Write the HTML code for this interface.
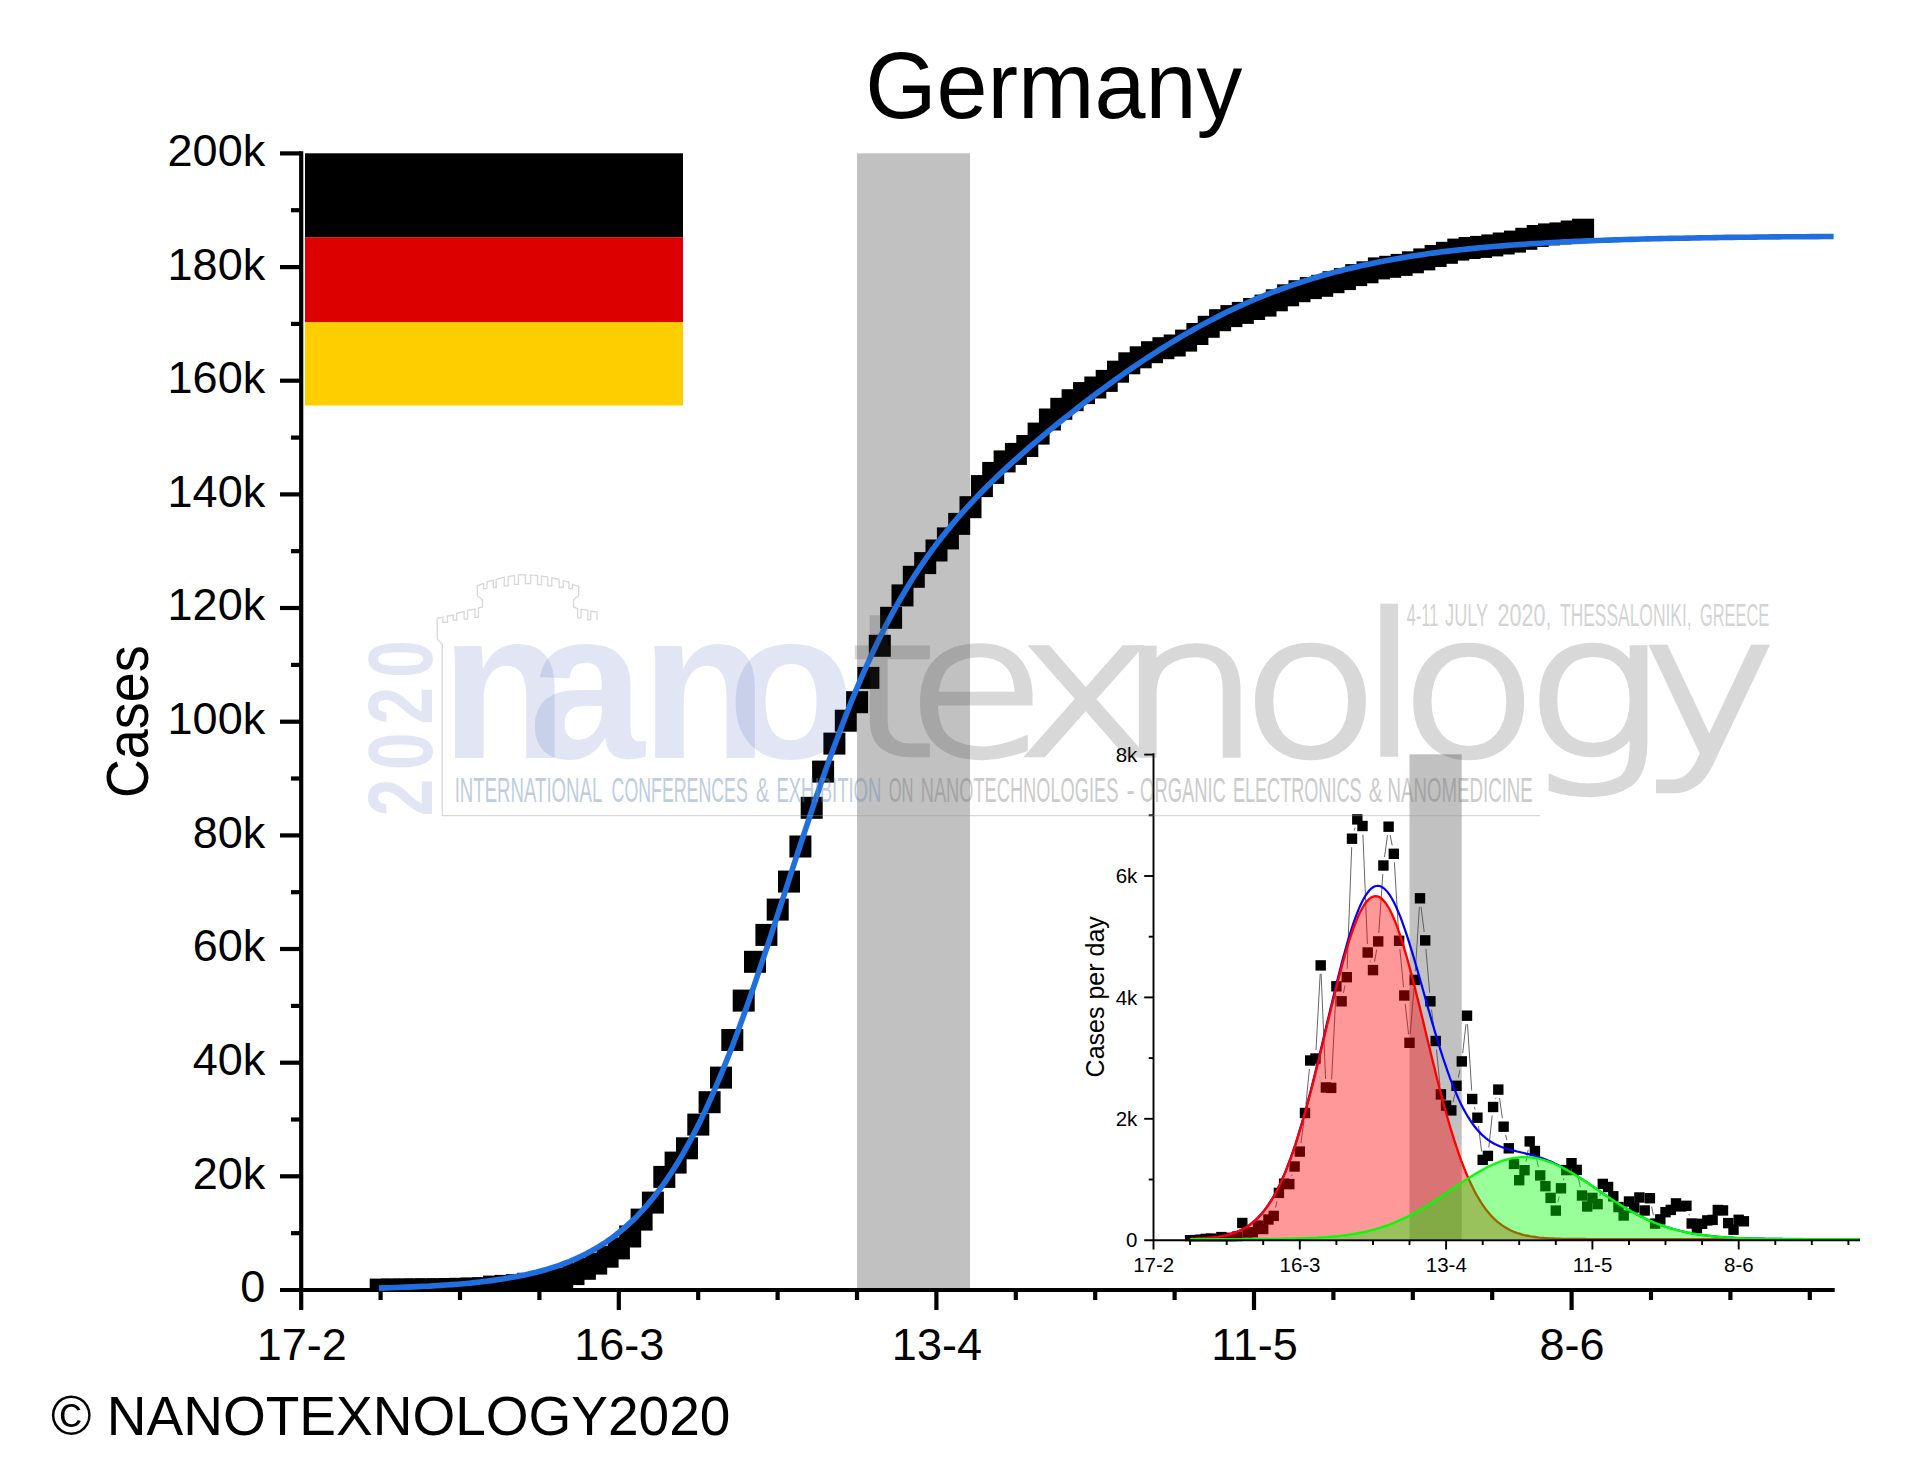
<!DOCTYPE html>
<html lang="en"><head><meta charset="utf-8"><title>Germany</title>
<style>html,body{margin:0;padding:0;background:#fff;}svg{display:block;}</style></head>
<body>
<svg width="1920" height="1469" viewBox="0 0 1920 1469" font-family="Liberation Sans, Arial, sans-serif">
<rect x="0" y="0" width="1920" height="1469" fill="#ffffff"/>
<rect x="857" y="153.3" width="113" height="1136.7" fill="#c1c1c1"/>
<g><rect x="305" y="153.3" width="378" height="84" fill="#000000"/><rect x="305" y="237.2" width="378" height="85" fill="#dd0000"/><rect x="305" y="322" width="378" height="83.5" fill="#ffce00"/></g>
<g stroke="#000000" stroke-width="4.2" fill="none">
<line x1="301.2" y1="151.2" x2="301.2" y2="1310.0"/><line x1="280.0" y1="1290.0" x2="1834.7" y2="1290.0"/><line x1="291" y1="1233.2" x2="301.2" y2="1233.2"/><line x1="280" y1="1176.3" x2="301.2" y2="1176.3"/><line x1="291" y1="1119.5" x2="301.2" y2="1119.5"/><line x1="280" y1="1062.7" x2="301.2" y2="1062.7"/><line x1="291" y1="1005.9" x2="301.2" y2="1005.9"/><line x1="280" y1="949.0" x2="301.2" y2="949.0"/><line x1="291" y1="892.2" x2="301.2" y2="892.2"/><line x1="280" y1="835.4" x2="301.2" y2="835.4"/><line x1="291" y1="778.5" x2="301.2" y2="778.5"/><line x1="280" y1="721.7" x2="301.2" y2="721.7"/><line x1="291" y1="664.9" x2="301.2" y2="664.9"/><line x1="280" y1="608.0" x2="301.2" y2="608.0"/><line x1="291" y1="551.2" x2="301.2" y2="551.2"/><line x1="280" y1="494.4" x2="301.2" y2="494.4"/><line x1="291" y1="437.6" x2="301.2" y2="437.6"/><line x1="280" y1="380.7" x2="301.2" y2="380.7"/><line x1="291" y1="323.9" x2="301.2" y2="323.9"/><line x1="280" y1="267.1" x2="301.2" y2="267.1"/><line x1="291" y1="210.2" x2="301.2" y2="210.2"/><line x1="280" y1="153.4" x2="301.2" y2="153.4"/><line x1="380.6" y1="1290.0" x2="380.6" y2="1300"/><line x1="460.0" y1="1290.0" x2="460.0" y2="1300"/><line x1="539.4" y1="1290.0" x2="539.4" y2="1300"/><line x1="618.8" y1="1290.0" x2="618.8" y2="1310"/><line x1="698.2" y1="1290.0" x2="698.2" y2="1300"/><line x1="777.6" y1="1290.0" x2="777.6" y2="1300"/><line x1="857.0" y1="1290.0" x2="857.0" y2="1300"/><line x1="936.4" y1="1290.0" x2="936.4" y2="1310"/><line x1="1015.8" y1="1290.0" x2="1015.8" y2="1300"/><line x1="1095.2" y1="1290.0" x2="1095.2" y2="1300"/><line x1="1174.6" y1="1290.0" x2="1174.6" y2="1300"/><line x1="1254.0" y1="1290.0" x2="1254.0" y2="1310"/><line x1="1333.4" y1="1290.0" x2="1333.4" y2="1300"/><line x1="1412.8" y1="1290.0" x2="1412.8" y2="1300"/><line x1="1492.2" y1="1290.0" x2="1492.2" y2="1300"/><line x1="1571.6" y1="1290.0" x2="1571.6" y2="1310"/><line x1="1651.0" y1="1290.0" x2="1651.0" y2="1300"/><line x1="1730.4" y1="1290.0" x2="1730.4" y2="1300"/><line x1="1809.8" y1="1290.0" x2="1809.8" y2="1300"/>
</g>
<clipPath id="mclip"><rect x="301.2" y="140" width="1600" height="1152.1"/></clipPath>
<g fill="#000000" clip-path="url(#mclip)">
<rect x="369.7" y="1278.6" width="22.0" height="22.0"/><rect x="381.0" y="1278.6" width="22.0" height="22.0"/><rect x="392.4" y="1278.5" width="22.0" height="22.0"/><rect x="403.7" y="1278.4" width="22.0" height="22.0"/><rect x="415.1" y="1278.3" width="22.0" height="22.0"/><rect x="426.4" y="1278.3" width="22.0" height="22.0"/><rect x="437.8" y="1278.0" width="22.0" height="22.0"/><rect x="449.1" y="1277.8" width="22.0" height="22.0"/><rect x="460.4" y="1277.5" width="22.0" height="22.0"/><rect x="471.8" y="1277.2" width="22.0" height="22.0"/><rect x="483.1" y="1275.6" width="22.0" height="22.0"/><rect x="494.5" y="1274.9" width="22.0" height="22.0"/><rect x="505.8" y="1274.2" width="22.0" height="22.0"/><rect x="517.2" y="1272.8" width="22.0" height="22.0"/><rect x="528.5" y="1271.7" width="22.0" height="22.0"/><rect x="539.8" y="1269.8" width="22.0" height="22.0"/><rect x="551.2" y="1267.5" width="22.0" height="22.0"/><rect x="562.5" y="1263.1" width="22.0" height="22.0"/><rect x="573.9" y="1257.8" width="22.0" height="22.0"/><rect x="585.2" y="1252.6" width="22.0" height="22.0"/><rect x="596.6" y="1245.7" width="22.0" height="22.0"/><rect x="607.9" y="1237.4" width="22.0" height="22.0"/><rect x="619.2" y="1225.5" width="22.0" height="22.0"/><rect x="630.6" y="1208.6" width="22.0" height="22.0"/><rect x="641.9" y="1191.6" width="22.0" height="22.0"/><rect x="653.3" y="1165.9" width="22.0" height="22.0"/><rect x="664.6" y="1151.6" width="22.0" height="22.0"/><rect x="676.0" y="1137.3" width="22.0" height="22.0"/><rect x="687.3" y="1113.6" width="22.0" height="22.0"/><rect x="698.6" y="1091.2" width="22.0" height="22.0"/><rect x="710.0" y="1066.6" width="22.0" height="22.0"/><rect x="721.3" y="1029.0" width="22.0" height="22.0"/><rect x="732.7" y="989.6" width="22.0" height="22.0"/><rect x="744.0" y="950.8" width="22.0" height="22.0"/><rect x="755.4" y="923.9" width="22.0" height="22.0"/><rect x="766.7" y="898.6" width="22.0" height="22.0"/><rect x="778.0" y="870.6" width="22.0" height="22.0"/><rect x="789.4" y="835.5" width="22.0" height="22.0"/><rect x="800.7" y="796.8" width="22.0" height="22.0"/><rect x="812.1" y="760.6" width="22.0" height="22.0"/><rect x="823.4" y="732.6" width="22.0" height="22.0"/><rect x="834.8" y="709.7" width="22.0" height="22.0"/><rect x="846.1" y="691.2" width="22.0" height="22.0"/><rect x="857.4" y="666.9" width="22.0" height="22.0"/><rect x="868.8" y="634.8" width="22.0" height="22.0"/><rect x="880.1" y="606.8" width="22.0" height="22.0"/><rect x="891.5" y="584.4" width="22.0" height="22.0"/><rect x="902.8" y="565.8" width="22.0" height="22.0"/><rect x="914.2" y="552.1" width="22.0" height="22.0"/><rect x="925.5" y="539.5" width="22.0" height="22.0"/><rect x="936.9" y="527.4" width="22.0" height="22.0"/><rect x="948.2" y="512.9" width="22.0" height="22.0"/><rect x="959.5" y="496.2" width="22.0" height="22.0"/><rect x="970.9" y="475.1" width="22.0" height="22.0"/><rect x="982.2" y="461.9" width="22.0" height="22.0"/><rect x="993.6" y="450.4" width="22.0" height="22.0"/><rect x="1004.9" y="442.9" width="22.0" height="22.0"/><rect x="1016.3" y="435.0" width="22.0" height="22.0"/><rect x="1027.6" y="422.6" width="22.0" height="22.0"/><rect x="1038.9" y="408.5" width="22.0" height="22.0"/><rect x="1050.3" y="397.8" width="22.0" height="22.0"/><rect x="1061.6" y="389.2" width="22.0" height="22.0"/><rect x="1073.0" y="382.1" width="22.0" height="22.0"/><rect x="1084.3" y="376.5" width="22.0" height="22.0"/><rect x="1095.7" y="369.9" width="22.0" height="22.0"/><rect x="1107.0" y="360.7" width="22.0" height="22.0"/><rect x="1118.3" y="352.3" width="22.0" height="22.0"/><rect x="1129.7" y="346.3" width="22.0" height="22.0"/><rect x="1141.0" y="341.2" width="22.0" height="22.0"/><rect x="1152.4" y="337.2" width="22.0" height="22.0"/><rect x="1163.7" y="334.5" width="22.0" height="22.0"/><rect x="1175.1" y="329.6" width="22.0" height="22.0"/><rect x="1186.4" y="323.0" width="22.0" height="22.0"/><rect x="1197.7" y="315.8" width="22.0" height="22.0"/><rect x="1209.1" y="309.2" width="22.0" height="22.0"/><rect x="1220.4" y="305.1" width="22.0" height="22.0"/><rect x="1231.8" y="301.9" width="22.0" height="22.0"/><rect x="1243.1" y="298.0" width="22.0" height="22.0"/><rect x="1254.5" y="294.6" width="22.0" height="22.0"/><rect x="1265.8" y="289.3" width="22.0" height="22.0"/><rect x="1277.1" y="284.3" width="22.0" height="22.0"/><rect x="1288.5" y="280.2" width="22.0" height="22.0"/><rect x="1299.8" y="277.1" width="22.0" height="22.0"/><rect x="1311.2" y="274.8" width="22.0" height="22.0"/><rect x="1322.5" y="271.2" width="22.0" height="22.0"/><rect x="1333.9" y="268.1" width="22.0" height="22.0"/><rect x="1345.2" y="264.1" width="22.0" height="22.0"/><rect x="1356.5" y="261.3" width="22.0" height="22.0"/><rect x="1367.9" y="257.4" width="22.0" height="22.0"/><rect x="1379.2" y="255.8" width="22.0" height="22.0"/><rect x="1390.6" y="253.9" width="22.0" height="22.0"/><rect x="1401.9" y="251.3" width="22.0" height="22.0"/><rect x="1413.3" y="248.4" width="22.0" height="22.0"/><rect x="1424.6" y="245.0" width="22.0" height="22.0"/><rect x="1435.9" y="241.8" width="22.0" height="22.0"/><rect x="1447.3" y="238.6" width="22.0" height="22.0"/><rect x="1458.6" y="237.0" width="22.0" height="22.0"/><rect x="1470.0" y="235.9" width="22.0" height="22.0"/><rect x="1481.3" y="234.4" width="22.0" height="22.0"/><rect x="1492.7" y="232.5" width="22.0" height="22.0"/><rect x="1504.0" y="230.6" width="22.0" height="22.0"/><rect x="1515.3" y="227.8" width="22.0" height="22.0"/><rect x="1526.7" y="225.0" width="22.0" height="22.0"/><rect x="1538.0" y="223.4" width="22.0" height="22.0"/><rect x="1549.4" y="222.4" width="22.0" height="22.0"/><rect x="1560.7" y="220.5" width="22.0" height="22.0"/><rect x="1572.1" y="218.7" width="22.0" height="22.0"/>
</g>
<polyline points="378.9,1288.1 384.5,1287.9 390.1,1287.7 395.7,1287.5 401.4,1287.3 407.0,1287.1 412.6,1286.9 418.2,1286.6 423.8,1286.3 429.5,1286.1 435.1,1285.7 440.7,1285.4 446.3,1285.0 451.9,1284.6 457.5,1284.2 463.2,1283.7 468.8,1283.2 474.4,1282.6 480.0,1282.0 485.6,1281.3 491.2,1280.6 496.9,1279.8 502.5,1279.0 508.1,1278.1 513.7,1277.1 519.3,1276.0 524.9,1274.9 530.6,1273.6 536.2,1272.3 541.8,1270.8 547.4,1269.2 553.0,1267.4 558.6,1265.6 564.3,1263.5 569.9,1261.3 575.5,1258.9 581.1,1256.3 586.7,1253.5 592.3,1250.5 598.0,1247.2 603.6,1243.7 609.2,1239.9 614.8,1235.8 620.4,1231.3 626.0,1226.5 631.7,1221.4 637.3,1215.9 642.9,1209.9 648.5,1203.6 654.1,1196.7 659.7,1189.4 665.4,1181.6 671.0,1173.3 676.6,1164.5 682.2,1155.1 687.8,1145.2 693.4,1134.6 699.1,1123.5 704.7,1111.9 710.3,1099.6 715.9,1086.7 721.5,1073.3 727.1,1059.4 732.8,1044.9 738.4,1029.9 744.0,1014.5 749.6,998.6 755.2,982.3 760.8,965.8 766.5,948.9 772.1,931.9 777.7,914.6 783.3,897.3 788.9,880.0 794.5,862.7 800.2,845.5 805.8,828.4 811.4,811.6 817.0,795.0 822.6,778.7 828.2,762.8 833.9,747.3 839.5,732.2 845.1,717.5 850.7,703.3 856.3,689.6 861.9,676.4 867.6,663.7 873.2,651.5 878.8,639.7 884.4,628.5 890.0,617.7 895.6,607.4 901.3,597.5 906.9,588.0 912.5,578.9 918.1,570.2 923.7,561.9 929.3,553.9 935.0,546.2 940.6,538.8 946.2,531.7 951.8,524.9 957.4,518.2 963.0,511.8 968.7,505.6 974.3,499.6 979.9,493.7 985.5,488.0 991.1,482.4 996.7,477.0 1002.4,471.6 1008.0,466.4 1013.6,461.3 1019.2,456.3 1024.8,451.3 1030.4,446.4 1036.1,441.6 1041.7,436.9 1047.3,432.2 1052.9,427.6 1058.5,423.0 1064.1,418.5 1069.8,414.1 1075.4,409.7 1081.0,405.3 1086.6,401.0 1092.2,396.8 1097.8,392.6 1103.5,388.4 1109.1,384.3 1114.7,380.2 1120.3,376.2 1125.9,372.3 1131.5,368.4 1137.2,364.6 1142.8,360.8 1148.4,357.1 1154.0,353.5 1159.6,349.9 1165.2,346.3 1170.9,342.9 1176.5,339.5 1182.1,336.2 1187.7,332.9 1193.3,329.7 1198.9,326.6 1204.6,323.6 1210.2,320.6 1215.8,317.7 1221.4,314.8 1227.0,312.1 1232.6,309.4 1238.3,306.8 1243.9,304.2 1249.5,301.7 1255.1,299.3 1260.7,297.0 1266.3,294.7 1272.0,292.5 1277.6,290.4 1283.2,288.3 1288.8,286.3 1294.4,284.3 1300.0,282.5 1305.7,280.6 1311.3,278.9 1316.9,277.2 1322.5,275.5 1328.1,274.0 1333.7,272.4 1339.4,271.0 1345.0,269.5 1350.6,268.2 1356.2,266.9 1361.8,265.6 1367.4,264.4 1373.1,263.2 1378.7,262.0 1384.3,261.0 1389.9,259.9 1395.5,258.9 1401.1,257.9 1406.8,257.0 1412.4,256.1 1418.0,255.3 1423.6,254.4 1429.2,253.6 1434.8,252.9 1440.5,252.1 1446.1,251.4 1451.7,250.8 1457.3,250.1 1462.9,249.5 1468.6,248.9 1474.2,248.4 1479.8,247.8 1485.4,247.3 1491.0,246.8 1496.6,246.3 1502.3,245.9 1507.9,245.4 1513.5,245.0 1519.1,244.6 1524.7,244.2 1530.3,243.8 1536.0,243.5 1541.6,243.2 1547.2,242.8 1552.8,242.5 1558.4,242.2 1564.0,241.9 1569.7,241.7 1575.3,241.4 1580.9,241.2 1586.5,240.9 1592.1,240.7 1597.7,240.5 1603.4,240.3 1609.0,240.1 1614.6,239.9 1620.2,239.7 1625.8,239.5 1631.4,239.4 1637.1,239.2 1642.7,239.0 1648.3,238.9 1653.9,238.8 1659.5,238.6 1665.1,238.5 1670.8,238.4 1676.4,238.3 1682.0,238.2 1687.6,238.1 1693.2,238.0 1698.8,237.9 1704.5,237.8 1710.1,237.7 1715.7,237.6 1721.3,237.5 1726.9,237.4 1732.5,237.4 1738.2,237.3 1743.8,237.2 1749.4,237.2 1755.0,237.1 1760.6,237.0 1766.2,237.0 1771.9,236.9 1777.5,236.9 1783.1,236.8 1788.7,236.8 1794.3,236.7 1799.9,236.7 1805.6,236.7 1811.2,236.6 1816.8,236.6 1822.4,236.5 1828.0,236.5 1833.6,236.5" fill="none" stroke="#1f6fe0" stroke-width="5.6" stroke-linejoin="round" stroke-linecap="butt"/>
<g font-size="45" fill="#000000" text-anchor="end">
<text x="265.2" y="1302.4">0</text><text x="265.2" y="1188.7">20k</text><text x="265.2" y="1075.1">40k</text><text x="265.2" y="961.4">60k</text><text x="265.2" y="847.8">80k</text><text x="265.2" y="734.1">100k</text><text x="265.2" y="620.4">120k</text><text x="265.2" y="506.8">140k</text><text x="265.2" y="393.1">160k</text><text x="265.2" y="279.5">180k</text><text x="265.2" y="165.8">200k</text>
</g>
<g font-size="45" fill="#000000" text-anchor="middle">
<text x="301.7" y="1359.5">17-2</text><text x="619.3" y="1359.5">16-3</text><text x="936.9" y="1359.5">13-4</text><text x="1254.5" y="1359.5">11-5</text><text x="1572.1" y="1359.5">8-6</text>
</g>
<text transform="translate(147.5,721.7) rotate(-90) scale(0.98,1.07)" font-size="55" text-anchor="middle" fill="#000000">Cases</text>
<text transform="translate(865.2,118.2) scale(1,1.028)" font-size="91.7" fill="#000000">Germany</text>
<text x="51" y="1435.3" font-size="55" fill="#000000">© NANOTEXNOLOGY2020</text>
<g id="inset">
<rect x="1409.5" y="754.3" width="52.2" height="485.9" fill="#c1c1c1"/>
<clipPath id="iclip"><rect x="1153.5" y="740" width="720" height="501.2"/></clipPath>
<path d="M1275.6 1207.6L1277.0 1201.2M1291.8 1176.0L1292.2 1174.7M1300.9 1143.2L1303.9 1121.5M1305.9 1104.6L1309.4 1069.0M1316.0 1050.0L1320.2 973.8M1321.1 973.8L1325.6 1079.0M1331.6 1079.4L1335.9 994.8M1343.4 993.0L1345.0 985.6M1347.1 968.8L1351.7 847.2M1354.3 830.5L1355.1 827.6M1362.9 834.5L1367.4 944.0M1370.1 960.6L1370.5 961.9M1374.5 961.7L1376.7 949.7M1378.8 932.9L1382.8 874.0M1384.5 857.1L1387.5 835.1M1390.2 835.0L1392.2 845.5M1394.4 862.3L1398.6 932.3M1399.9 949.2L1403.5 987.1M1405.2 1004.0L1408.6 1034.4M1410.2 1034.3L1414.0 988.4M1415.3 971.4L1419.4 906.8M1421.0 906.7L1424.2 932.0M1425.9 948.9L1429.7 992.8M1431.5 1009.7L1434.5 1032.6M1436.5 1049.5L1440.0 1085.9M1453.1 1102.1L1454.8 1094.2M1458.3 1077.5L1460.0 1069.8M1462.7 1053.0L1466.0 1024.1M1467.5 1024.2L1471.7 1090.5M1474.5 1107.1L1475.2 1109.5M1478.5 1126.1L1481.6 1151.5M1488.8 1147.5L1492.2 1115.4M1495.6 1098.8L1495.9 1097.7M1499.5 1098.0L1502.4 1118.3M1505.6 1135.0L1506.8 1140.0M1526.0 1161.8L1528.2 1149.8M1536.7 1159.3L1538.4 1167.1M1557.8 1202.3L1559.1 1196.6M1563.4 1180.1L1563.9 1178.3M1578.4 1178.2L1580.3 1187.2M1599.8 1195.9L1600.7 1192.2M1651.6 1206.5L1653.4 1215.3M1688.9 1213.9L1689.3 1215.4" fill="none" stroke="#555555" stroke-width="0.9"/>
<g fill="#000000" clip-path="url(#iclip)">
<rect x="1184.9" y="1235.0" width="10.4" height="10.4"/><rect x="1190.1" y="1234.9" width="10.4" height="10.4"/><rect x="1195.3" y="1234.5" width="10.4" height="10.4"/><rect x="1200.5" y="1233.7" width="10.4" height="10.4"/><rect x="1205.8" y="1233.4" width="10.4" height="10.4"/><rect x="1211.0" y="1234.7" width="10.4" height="10.4"/><rect x="1216.2" y="1231.9" width="10.4" height="10.4"/><rect x="1221.5" y="1232.9" width="10.4" height="10.4"/><rect x="1226.7" y="1232.7" width="10.4" height="10.4"/><rect x="1231.9" y="1231.4" width="10.4" height="10.4"/><rect x="1237.1" y="1217.8" width="10.4" height="10.4"/><rect x="1242.3" y="1227.4" width="10.4" height="10.4"/><rect x="1247.6" y="1227.1" width="10.4" height="10.4"/><rect x="1252.8" y="1220.4" width="10.4" height="10.4"/><rect x="1258.0" y="1223.8" width="10.4" height="10.4"/><rect x="1263.2" y="1214.3" width="10.4" height="10.4"/><rect x="1268.5" y="1210.7" width="10.4" height="10.4"/><rect x="1273.7" y="1187.7" width="10.4" height="10.4"/><rect x="1278.9" y="1178.5" width="10.4" height="10.4"/><rect x="1284.1" y="1178.9" width="10.4" height="10.4"/><rect x="1289.4" y="1161.3" width="10.4" height="10.4"/><rect x="1294.6" y="1146.4" width="10.4" height="10.4"/><rect x="1299.8" y="1107.8" width="10.4" height="10.4"/><rect x="1305.0" y="1055.3" width="10.4" height="10.4"/><rect x="1310.3" y="1053.3" width="10.4" height="10.4"/><rect x="1315.5" y="960.2" width="10.4" height="10.4"/><rect x="1320.7" y="1082.3" width="10.4" height="10.4"/><rect x="1326.0" y="1082.7" width="10.4" height="10.4"/><rect x="1331.2" y="981.1" width="10.4" height="10.4"/><rect x="1336.4" y="996.1" width="10.4" height="10.4"/><rect x="1341.6" y="972.0" width="10.4" height="10.4"/><rect x="1346.8" y="833.5" width="10.4" height="10.4"/><rect x="1352.1" y="814.2" width="10.4" height="10.4"/><rect x="1357.3" y="820.8" width="10.4" height="10.4"/><rect x="1362.5" y="947.3" width="10.4" height="10.4"/><rect x="1367.8" y="964.9" width="10.4" height="10.4"/><rect x="1373.0" y="936.2" width="10.4" height="10.4"/><rect x="1378.2" y="860.3" width="10.4" height="10.4"/><rect x="1383.4" y="821.5" width="10.4" height="10.4"/><rect x="1388.6" y="848.6" width="10.4" height="10.4"/><rect x="1393.9" y="935.6" width="10.4" height="10.4"/><rect x="1399.1" y="990.3" width="10.4" height="10.4"/><rect x="1404.3" y="1037.6" width="10.4" height="10.4"/><rect x="1409.5" y="974.7" width="10.4" height="10.4"/><rect x="1414.8" y="893.1" width="10.4" height="10.4"/><rect x="1420.0" y="935.2" width="10.4" height="10.4"/><rect x="1425.2" y="996.1" width="10.4" height="10.4"/><rect x="1430.5" y="1035.8" width="10.4" height="10.4"/><rect x="1435.7" y="1089.2" width="10.4" height="10.4"/><rect x="1440.9" y="1100.4" width="10.4" height="10.4"/><rect x="1446.1" y="1105.2" width="10.4" height="10.4"/><rect x="1451.3" y="1080.6" width="10.4" height="10.4"/><rect x="1456.6" y="1056.2" width="10.4" height="10.4"/><rect x="1461.8" y="1010.5" width="10.4" height="10.4"/><rect x="1467.0" y="1093.8" width="10.4" height="10.4"/><rect x="1472.2" y="1112.5" width="10.4" height="10.4"/><rect x="1477.5" y="1154.7" width="10.4" height="10.4"/><rect x="1482.7" y="1150.7" width="10.4" height="10.4"/><rect x="1487.9" y="1101.8" width="10.4" height="10.4"/><rect x="1493.1" y="1084.4" width="10.4" height="10.4"/><rect x="1498.4" y="1121.5" width="10.4" height="10.4"/><rect x="1503.6" y="1143.1" width="10.4" height="10.4"/><rect x="1508.8" y="1158.7" width="10.4" height="10.4"/><rect x="1514.0" y="1175.0" width="10.4" height="10.4"/><rect x="1519.3" y="1165.0" width="10.4" height="10.4"/><rect x="1524.5" y="1136.2" width="10.4" height="10.4"/><rect x="1529.7" y="1145.8" width="10.4" height="10.4"/><rect x="1535.0" y="1170.2" width="10.4" height="10.4"/><rect x="1540.2" y="1181.0" width="10.4" height="10.4"/><rect x="1545.4" y="1192.7" width="10.4" height="10.4"/><rect x="1550.6" y="1205.4" width="10.4" height="10.4"/><rect x="1555.8" y="1183.1" width="10.4" height="10.4"/><rect x="1561.1" y="1164.9" width="10.4" height="10.4"/><rect x="1566.3" y="1158.0" width="10.4" height="10.4"/><rect x="1571.5" y="1164.7" width="10.4" height="10.4"/><rect x="1576.8" y="1190.3" width="10.4" height="10.4"/><rect x="1582.0" y="1201.3" width="10.4" height="10.4"/><rect x="1587.2" y="1192.7" width="10.4" height="10.4"/><rect x="1592.4" y="1198.9" width="10.4" height="10.4"/><rect x="1597.6" y="1178.7" width="10.4" height="10.4"/><rect x="1602.9" y="1181.8" width="10.4" height="10.4"/><rect x="1608.1" y="1191.1" width="10.4" height="10.4"/><rect x="1613.3" y="1201.9" width="10.4" height="10.4"/><rect x="1618.5" y="1210.3" width="10.4" height="10.4"/><rect x="1623.8" y="1196.3" width="10.4" height="10.4"/><rect x="1629.0" y="1202.3" width="10.4" height="10.4"/><rect x="1634.2" y="1192.3" width="10.4" height="10.4"/><rect x="1639.5" y="1205.3" width="10.4" height="10.4"/><rect x="1644.7" y="1193.0" width="10.4" height="10.4"/><rect x="1649.9" y="1218.4" width="10.4" height="10.4"/><rect x="1655.1" y="1214.2" width="10.4" height="10.4"/><rect x="1660.3" y="1207.0" width="10.4" height="10.4"/><rect x="1665.6" y="1204.7" width="10.4" height="10.4"/><rect x="1670.8" y="1198.2" width="10.4" height="10.4"/><rect x="1676.0" y="1201.2" width="10.4" height="10.4"/><rect x="1681.2" y="1200.6" width="10.4" height="10.4"/><rect x="1686.5" y="1218.3" width="10.4" height="10.4"/><rect x="1691.7" y="1222.9" width="10.4" height="10.4"/><rect x="1696.9" y="1218.6" width="10.4" height="10.4"/><rect x="1702.1" y="1215.2" width="10.4" height="10.4"/><rect x="1707.4" y="1214.7" width="10.4" height="10.4"/><rect x="1712.6" y="1204.8" width="10.4" height="10.4"/><rect x="1717.8" y="1205.2" width="10.4" height="10.4"/><rect x="1723.0" y="1217.9" width="10.4" height="10.4"/><rect x="1728.3" y="1224.5" width="10.4" height="10.4"/><rect x="1733.5" y="1214.6" width="10.4" height="10.4"/><rect x="1738.7" y="1216.1" width="10.4" height="10.4"/>
</g>
<g transform="translate(0,-1.1)">
<polyline points="1190.1,1239.9 1192.3,1239.8 1194.6,1239.7 1196.8,1239.6 1199.0,1239.5 1201.3,1239.4 1203.5,1239.3 1205.8,1239.1 1208.0,1239.0 1210.2,1238.8 1212.5,1238.5 1214.7,1238.3 1217.0,1238.0 1219.2,1237.7 1221.4,1237.3 1223.7,1236.8 1225.9,1236.4 1228.2,1235.8 1230.4,1235.2 1232.6,1234.5 1234.9,1233.7 1237.1,1232.9 1239.4,1231.9 1241.6,1230.8 1243.8,1229.6 1246.1,1228.3 1248.3,1226.9 1250.6,1225.3 1252.8,1223.5 1255.0,1221.6 1257.3,1219.4 1259.5,1217.1 1261.8,1214.6 1264.0,1211.9 1266.2,1208.9 1268.5,1205.7 1270.7,1202.3 1273.0,1198.6 1275.2,1194.6 1277.4,1190.3 1279.7,1185.8 1281.9,1180.9 1284.2,1175.8 1286.4,1170.3 1288.6,1164.5 1290.9,1158.5 1293.1,1152.1 1295.4,1145.4 1297.6,1138.4 1299.8,1131.0 1302.1,1123.5 1304.3,1115.6 1306.6,1107.4 1308.8,1099.0 1311.1,1090.4 1313.3,1081.6 1315.5,1072.6 1317.8,1063.4 1320.0,1054.1 1322.3,1044.7 1324.5,1035.2 1326.7,1025.7 1329.0,1016.2 1331.2,1006.8 1333.5,997.4 1335.7,988.2 1337.9,979.1 1340.2,970.2 1342.4,961.6 1344.7,953.3 1346.9,945.3 1349.1,937.7 1351.4,930.5 1353.6,923.7 1355.9,917.4 1358.1,911.7 1360.3,906.5 1362.6,901.8 1364.8,897.8 1367.1,894.4 1369.3,891.6 1371.5,889.4 1373.8,887.9 1376.0,887.1 1378.3,886.9 1380.5,887.4 1382.7,888.6 1385.0,890.3 1387.2,892.7 1389.5,895.7 1391.7,899.3 1393.9,903.4 1396.2,908.1 1398.4,913.2 1400.7,918.8 1402.9,924.9 1405.1,931.3 1407.4,938.0 1409.6,945.0 1411.9,952.4 1414.1,959.9 1416.3,967.6 1418.6,975.4 1420.8,983.3 1423.1,991.3 1425.3,999.3 1427.5,1007.2 1429.8,1015.1 1432.0,1023.0 1434.3,1030.6 1436.5,1038.2 1438.7,1045.5 1441.0,1052.7 1443.2,1059.6 1445.5,1066.3 1447.7,1072.7 1449.9,1078.9 1452.2,1084.8 1454.4,1090.4 1456.7,1095.7 1458.9,1100.7 1461.1,1105.4 1463.4,1109.8 1465.6,1113.9 1467.9,1117.8 1470.1,1121.3 1472.4,1124.6 1474.6,1127.6 1476.8,1130.4 1479.1,1132.9 1481.3,1135.2 1483.6,1137.3 1485.8,1139.2 1488.0,1140.9 1490.3,1142.4 1492.5,1143.8 1494.8,1145.1 1497.0,1146.2 1499.2,1147.2 1501.5,1148.1 1503.7,1148.9 1506.0,1149.6 1508.2,1150.3 1510.4,1150.9 1512.7,1151.5 1514.9,1152.0 1517.2,1152.6 1519.4,1153.1 1521.6,1153.6 1523.9,1154.1 1526.1,1154.7 1528.4,1155.2 1530.6,1155.8 1532.8,1156.4 1535.1,1157.1 1537.3,1157.7 1539.6,1158.5 1541.8,1159.2 1544.0,1160.0 1546.3,1160.9 1548.5,1161.8 1550.8,1162.7 1553.0,1163.7 1555.2,1164.8 1557.5,1165.8 1559.7,1167.0 1562.0,1168.2 1564.2,1169.4 1566.4,1170.6 1568.7,1171.9 1570.9,1173.2 1573.2,1174.6 1575.4,1176.0 1577.6,1177.4 1579.9,1178.9 1582.1,1180.3 1584.4,1181.8 1586.6,1183.3 1588.8,1184.8 1591.1,1186.4 1593.3,1187.9 1595.6,1189.4 1597.8,1191.0 1600.0,1192.5 1602.3,1194.0 1604.5,1195.6 1606.8,1197.1 1609.0,1198.6 1611.2,1200.1 1613.5,1201.5 1615.7,1203.0 1618.0,1204.4 1620.2,1205.8 1622.4,1207.2 1624.7,1208.6 1626.9,1209.9 1629.2,1211.2 1631.4,1212.5 1633.7,1213.7 1635.9,1214.9 1638.1,1216.1 1640.4,1217.3 1642.6,1218.4 1644.9,1219.5 1647.1,1220.5 1649.3,1221.5 1651.6,1222.5 1653.8,1223.4 1656.1,1224.3 1658.3,1225.2 1660.5,1226.0 1662.8,1226.8 1665.0,1227.6 1667.3,1228.3 1669.5,1229.0 1671.7,1229.7 1674.0,1230.4 1676.2,1231.0 1678.5,1231.5 1680.7,1232.1 1682.9,1232.6 1685.2,1233.1 1687.4,1233.6 1689.7,1234.0 1691.9,1234.5 1694.1,1234.8 1696.4,1235.2 1698.6,1235.6 1700.9,1235.9 1703.1,1236.2 1705.3,1236.5 1707.6,1236.8 1709.8,1237.0 1712.1,1237.3 1714.3,1237.5 1716.5,1237.7 1718.8,1237.9 1721.0,1238.1 1723.3,1238.3 1725.5,1238.4 1727.7,1238.6 1730.0,1238.7 1732.2,1238.8 1734.5,1238.9 1736.7,1239.1 1738.9,1239.2 1741.2,1239.2 1743.4,1239.3 1745.7,1239.4 1747.9,1239.5 1750.1,1239.5 1752.4,1239.6 1754.6,1239.7 1756.9,1239.7 1759.1,1239.8 1761.3,1239.8 1763.6,1239.8 1765.8,1239.9 1768.1,1239.9 1770.3,1239.9 1772.5,1240.0 1774.8,1240.0 1777.0,1240.0 1779.3,1240.0 1781.5,1240.0 1783.8,1240.1 1786.0,1240.1 1788.2,1240.1 1790.5,1240.1 1792.7,1240.1 1795.0,1240.1 1797.2,1240.1 1799.4,1240.1 1801.7,1240.1 1803.9,1240.2 1806.2,1240.2 1808.4,1240.2 1810.6,1240.2 1812.9,1240.2 1815.1,1240.2 1817.4,1240.2 1819.6,1240.2 1821.8,1240.2 1824.1,1240.2 1826.3,1240.2 1828.6,1240.2 1830.8,1240.2 1833.0,1240.2 1835.3,1240.2 1837.5,1240.2 1839.8,1240.2 1842.0,1240.2 1844.2,1240.2 1846.5,1240.2 1848.7,1240.2 1851.0,1240.2 1853.2,1240.2 1855.4,1240.2 1857.7,1240.2 1859.9,1240.2" fill="none" stroke="#0000ff" stroke-width="2.2"/>
<polygon points="1190.1,1240.2 1190.1,1239.9 1192.3,1239.8 1194.6,1239.7 1196.8,1239.6 1199.0,1239.5 1201.3,1239.4 1203.5,1239.3 1205.8,1239.2 1208.0,1239.0 1210.2,1238.8 1212.5,1238.6 1214.7,1238.3 1217.0,1238.0 1219.2,1237.7 1221.4,1237.3 1223.7,1236.9 1225.9,1236.4 1228.2,1235.8 1230.4,1235.2 1232.6,1234.5 1234.9,1233.8 1237.1,1232.9 1239.4,1231.9 1241.6,1230.9 1243.8,1229.7 1246.1,1228.4 1248.3,1226.9 1250.6,1225.3 1252.8,1223.6 1255.0,1221.6 1257.3,1219.5 1259.5,1217.2 1261.8,1214.7 1264.0,1212.0 1266.2,1209.1 1268.5,1205.9 1270.7,1202.5 1273.0,1198.8 1275.2,1194.8 1277.4,1190.6 1279.7,1186.1 1281.9,1181.2 1284.2,1176.1 1286.4,1170.7 1288.6,1165.0 1290.9,1158.9 1293.1,1152.6 1295.4,1145.9 1297.6,1139.0 1299.8,1131.7 1302.1,1124.2 1304.3,1116.4 1306.6,1108.3 1308.8,1100.0 1311.1,1091.5 1313.3,1082.8 1315.5,1073.9 1317.8,1064.8 1320.0,1055.7 1322.3,1046.4 1324.5,1037.1 1326.7,1027.7 1329.0,1018.4 1331.2,1009.2 1333.5,1000.0 1335.7,991.0 1337.9,982.1 1340.2,973.5 1342.4,965.2 1344.7,957.1 1346.9,949.4 1349.1,942.1 1351.4,935.3 1353.6,928.9 1355.9,923.0 1358.1,917.6 1360.3,912.8 1362.6,908.7 1364.8,905.1 1367.1,902.2 1369.3,899.9 1371.5,898.4 1373.8,897.5 1376.0,897.3 1378.3,897.7 1380.5,898.9 1382.7,900.8 1385.0,903.3 1387.2,906.5 1389.5,910.3 1391.7,914.7 1393.9,919.7 1396.2,925.3 1398.4,931.4 1400.7,938.0 1402.9,945.0 1405.1,952.5 1407.4,960.3 1409.6,968.5 1411.9,977.0 1414.1,985.7 1416.3,994.6 1418.6,1003.7 1420.8,1012.9 1423.1,1022.2 1425.3,1031.5 1427.5,1040.9 1429.8,1050.2 1432.0,1059.4 1434.3,1068.5 1436.5,1077.5 1438.7,1086.4 1441.0,1095.0 1443.2,1103.4 1445.5,1111.7 1447.7,1119.6 1449.9,1127.3 1452.2,1134.7 1454.4,1141.8 1456.7,1148.7 1458.9,1155.2 1461.1,1161.4 1463.4,1167.3 1465.6,1172.9 1467.9,1178.2 1470.1,1183.2 1472.4,1187.9 1474.6,1192.3 1476.8,1196.5 1479.1,1200.3 1481.3,1203.9 1483.6,1207.2 1485.8,1210.3 1488.0,1213.2 1490.3,1215.8 1492.5,1218.2 1494.8,1220.4 1497.0,1222.4 1499.2,1224.3 1501.5,1226.0 1503.7,1227.5 1506.0,1228.9 1508.2,1230.2 1510.4,1231.3 1512.7,1232.3 1514.9,1233.3 1517.2,1234.1 1519.4,1234.8 1521.6,1235.5 1523.9,1236.1 1526.1,1236.6 1528.4,1237.0 1530.6,1237.5 1532.8,1237.8 1535.1,1238.1 1537.3,1238.4 1539.6,1238.7 1541.8,1238.9 1544.0,1239.1 1546.3,1239.2 1548.5,1239.4 1550.8,1239.5 1553.0,1239.6 1555.2,1239.7 1557.5,1239.8 1559.7,1239.8 1562.0,1239.9 1564.2,1239.9 1566.4,1240.0 1568.7,1240.0 1570.9,1240.0 1573.2,1240.1 1575.4,1240.1 1577.6,1240.1 1579.9,1240.1 1582.1,1240.1 1584.4,1240.1 1586.6,1240.2 1588.8,1240.2 1591.1,1240.2 1593.3,1240.2 1595.6,1240.2 1597.8,1240.2 1600.0,1240.2 1602.3,1240.2 1604.5,1240.2 1606.8,1240.2 1609.0,1240.2 1611.2,1240.2 1613.5,1240.2 1615.7,1240.2 1618.0,1240.2 1620.2,1240.2 1622.4,1240.2 1624.7,1240.2 1626.9,1240.2 1629.2,1240.2 1631.4,1240.2 1633.7,1240.2 1635.9,1240.2 1638.1,1240.2 1640.4,1240.2 1642.6,1240.2 1644.9,1240.2 1647.1,1240.2 1649.3,1240.2 1651.6,1240.2 1653.8,1240.2 1656.1,1240.2 1658.3,1240.2 1660.5,1240.2 1662.8,1240.2 1665.0,1240.2 1667.3,1240.2 1669.5,1240.2 1671.7,1240.2 1674.0,1240.2 1676.2,1240.2 1678.5,1240.2 1680.7,1240.2 1682.9,1240.2 1685.2,1240.2 1687.4,1240.2 1689.7,1240.2 1691.9,1240.2 1694.1,1240.2 1696.4,1240.2 1698.6,1240.2 1700.9,1240.2 1703.1,1240.2 1705.3,1240.2 1707.6,1240.2 1709.8,1240.2 1712.1,1240.2 1714.3,1240.2 1716.5,1240.2 1718.8,1240.2 1721.0,1240.2 1723.3,1240.2 1725.5,1240.2 1727.7,1240.2 1730.0,1240.2 1732.2,1240.2 1734.5,1240.2 1736.7,1240.2 1738.9,1240.2 1741.2,1240.2 1743.4,1240.2 1745.7,1240.2 1747.9,1240.2 1750.1,1240.2 1752.4,1240.2 1754.6,1240.2 1756.9,1240.2 1759.1,1240.2 1761.3,1240.2 1763.6,1240.2 1765.8,1240.2 1768.1,1240.2 1770.3,1240.2 1772.5,1240.2 1774.8,1240.2 1777.0,1240.2 1779.3,1240.2 1781.5,1240.2 1783.8,1240.2 1786.0,1240.2 1788.2,1240.2 1790.5,1240.2 1792.7,1240.2 1795.0,1240.2 1797.2,1240.2 1799.4,1240.2 1801.7,1240.2 1803.9,1240.2 1806.2,1240.2 1808.4,1240.2 1810.6,1240.2 1812.9,1240.2 1815.1,1240.2 1817.4,1240.2 1819.6,1240.2 1821.8,1240.2 1824.1,1240.2 1826.3,1240.2 1828.6,1240.2 1830.8,1240.2 1833.0,1240.2 1835.3,1240.2 1837.5,1240.2 1839.8,1240.2 1842.0,1240.2 1844.2,1240.2 1846.5,1240.2 1848.7,1240.2 1851.0,1240.2 1853.2,1240.2 1855.4,1240.2 1857.7,1240.2 1859.9,1240.2 1859.9,1240.2" fill="#ff0000" fill-opacity="0.4" stroke="none"/>
<polyline points="1190.1,1239.9 1192.3,1239.8 1194.6,1239.7 1196.8,1239.6 1199.0,1239.5 1201.3,1239.4 1203.5,1239.3 1205.8,1239.2 1208.0,1239.0 1210.2,1238.8 1212.5,1238.6 1214.7,1238.3 1217.0,1238.0 1219.2,1237.7 1221.4,1237.3 1223.7,1236.9 1225.9,1236.4 1228.2,1235.8 1230.4,1235.2 1232.6,1234.5 1234.9,1233.8 1237.1,1232.9 1239.4,1231.9 1241.6,1230.9 1243.8,1229.7 1246.1,1228.4 1248.3,1226.9 1250.6,1225.3 1252.8,1223.6 1255.0,1221.6 1257.3,1219.5 1259.5,1217.2 1261.8,1214.7 1264.0,1212.0 1266.2,1209.1 1268.5,1205.9 1270.7,1202.5 1273.0,1198.8 1275.2,1194.8 1277.4,1190.6 1279.7,1186.1 1281.9,1181.2 1284.2,1176.1 1286.4,1170.7 1288.6,1165.0 1290.9,1158.9 1293.1,1152.6 1295.4,1145.9 1297.6,1139.0 1299.8,1131.7 1302.1,1124.2 1304.3,1116.4 1306.6,1108.3 1308.8,1100.0 1311.1,1091.5 1313.3,1082.8 1315.5,1073.9 1317.8,1064.8 1320.0,1055.7 1322.3,1046.4 1324.5,1037.1 1326.7,1027.7 1329.0,1018.4 1331.2,1009.2 1333.5,1000.0 1335.7,991.0 1337.9,982.1 1340.2,973.5 1342.4,965.2 1344.7,957.1 1346.9,949.4 1349.1,942.1 1351.4,935.3 1353.6,928.9 1355.9,923.0 1358.1,917.6 1360.3,912.8 1362.6,908.7 1364.8,905.1 1367.1,902.2 1369.3,899.9 1371.5,898.4 1373.8,897.5 1376.0,897.3 1378.3,897.7 1380.5,898.9 1382.7,900.8 1385.0,903.3 1387.2,906.5 1389.5,910.3 1391.7,914.7 1393.9,919.7 1396.2,925.3 1398.4,931.4 1400.7,938.0 1402.9,945.0 1405.1,952.5 1407.4,960.3 1409.6,968.5 1411.9,977.0 1414.1,985.7 1416.3,994.6 1418.6,1003.7 1420.8,1012.9 1423.1,1022.2 1425.3,1031.5 1427.5,1040.9 1429.8,1050.2 1432.0,1059.4 1434.3,1068.5 1436.5,1077.5 1438.7,1086.4 1441.0,1095.0 1443.2,1103.4 1445.5,1111.7 1447.7,1119.6 1449.9,1127.3 1452.2,1134.7 1454.4,1141.8 1456.7,1148.7 1458.9,1155.2 1461.1,1161.4 1463.4,1167.3 1465.6,1172.9 1467.9,1178.2 1470.1,1183.2 1472.4,1187.9 1474.6,1192.3 1476.8,1196.5 1479.1,1200.3 1481.3,1203.9 1483.6,1207.2 1485.8,1210.3 1488.0,1213.2 1490.3,1215.8 1492.5,1218.2 1494.8,1220.4 1497.0,1222.4 1499.2,1224.3 1501.5,1226.0 1503.7,1227.5 1506.0,1228.9 1508.2,1230.2 1510.4,1231.3 1512.7,1232.3 1514.9,1233.3 1517.2,1234.1 1519.4,1234.8 1521.6,1235.5 1523.9,1236.1 1526.1,1236.6 1528.4,1237.0 1530.6,1237.5 1532.8,1237.8 1535.1,1238.1 1537.3,1238.4 1539.6,1238.7 1541.8,1238.9 1544.0,1239.1 1546.3,1239.2 1548.5,1239.4 1550.8,1239.5 1553.0,1239.6 1555.2,1239.7 1557.5,1239.8 1559.7,1239.8 1562.0,1239.9 1564.2,1239.9 1566.4,1240.0 1568.7,1240.0 1570.9,1240.0 1573.2,1240.1 1575.4,1240.1 1577.6,1240.1 1579.9,1240.1 1582.1,1240.1 1584.4,1240.1 1586.6,1240.2 1588.8,1240.2 1591.1,1240.2 1593.3,1240.2 1595.6,1240.2 1597.8,1240.2 1600.0,1240.2 1602.3,1240.2 1604.5,1240.2 1606.8,1240.2 1609.0,1240.2 1611.2,1240.2 1613.5,1240.2 1615.7,1240.2 1618.0,1240.2 1620.2,1240.2 1622.4,1240.2 1624.7,1240.2 1626.9,1240.2 1629.2,1240.2 1631.4,1240.2 1633.7,1240.2 1635.9,1240.2 1638.1,1240.2 1640.4,1240.2 1642.6,1240.2 1644.9,1240.2 1647.1,1240.2 1649.3,1240.2 1651.6,1240.2 1653.8,1240.2 1656.1,1240.2 1658.3,1240.2 1660.5,1240.2 1662.8,1240.2 1665.0,1240.2 1667.3,1240.2 1669.5,1240.2 1671.7,1240.2 1674.0,1240.2 1676.2,1240.2 1678.5,1240.2 1680.7,1240.2 1682.9,1240.2 1685.2,1240.2 1687.4,1240.2 1689.7,1240.2 1691.9,1240.2 1694.1,1240.2 1696.4,1240.2 1698.6,1240.2 1700.9,1240.2 1703.1,1240.2 1705.3,1240.2 1707.6,1240.2 1709.8,1240.2 1712.1,1240.2 1714.3,1240.2 1716.5,1240.2 1718.8,1240.2 1721.0,1240.2 1723.3,1240.2 1725.5,1240.2 1727.7,1240.2 1730.0,1240.2 1732.2,1240.2 1734.5,1240.2 1736.7,1240.2 1738.9,1240.2 1741.2,1240.2 1743.4,1240.2 1745.7,1240.2 1747.9,1240.2 1750.1,1240.2 1752.4,1240.2 1754.6,1240.2 1756.9,1240.2 1759.1,1240.2 1761.3,1240.2 1763.6,1240.2 1765.8,1240.2 1768.1,1240.2 1770.3,1240.2 1772.5,1240.2 1774.8,1240.2 1777.0,1240.2 1779.3,1240.2 1781.5,1240.2 1783.8,1240.2 1786.0,1240.2 1788.2,1240.2 1790.5,1240.2 1792.7,1240.2 1795.0,1240.2 1797.2,1240.2 1799.4,1240.2 1801.7,1240.2 1803.9,1240.2 1806.2,1240.2 1808.4,1240.2 1810.6,1240.2 1812.9,1240.2 1815.1,1240.2 1817.4,1240.2 1819.6,1240.2 1821.8,1240.2 1824.1,1240.2 1826.3,1240.2 1828.6,1240.2 1830.8,1240.2 1833.0,1240.2 1835.3,1240.2 1837.5,1240.2 1839.8,1240.2 1842.0,1240.2 1844.2,1240.2 1846.5,1240.2 1848.7,1240.2 1851.0,1240.2 1853.2,1240.2 1855.4,1240.2 1857.7,1240.2 1859.9,1240.2" fill="none" stroke="#ff0000" stroke-width="2.3"/>
<polygon points="1190.1,1240.2 1190.1,1240.2 1192.3,1240.2 1194.6,1240.2 1196.8,1240.2 1199.0,1240.2 1201.3,1240.2 1203.5,1240.2 1205.8,1240.2 1208.0,1240.2 1210.2,1240.2 1212.5,1240.2 1214.7,1240.2 1217.0,1240.2 1219.2,1240.2 1221.4,1240.2 1223.7,1240.2 1225.9,1240.2 1228.2,1240.2 1230.4,1240.2 1232.6,1240.2 1234.9,1240.2 1237.1,1240.2 1239.4,1240.2 1241.6,1240.2 1243.8,1240.2 1246.1,1240.1 1248.3,1240.1 1250.6,1240.1 1252.8,1240.1 1255.0,1240.1 1257.3,1240.1 1259.5,1240.1 1261.8,1240.1 1264.0,1240.1 1266.2,1240.1 1268.5,1240.0 1270.7,1240.0 1273.0,1240.0 1275.2,1240.0 1277.4,1239.9 1279.7,1239.9 1281.9,1239.9 1284.2,1239.9 1286.4,1239.8 1288.6,1239.8 1290.9,1239.7 1293.1,1239.7 1295.4,1239.6 1297.6,1239.6 1299.8,1239.5 1302.1,1239.4 1304.3,1239.4 1306.6,1239.3 1308.8,1239.2 1311.1,1239.1 1313.3,1239.0 1315.5,1238.9 1317.8,1238.8 1320.0,1238.6 1322.3,1238.5 1324.5,1238.4 1326.7,1238.2 1329.0,1238.0 1331.2,1237.8 1333.5,1237.6 1335.7,1237.4 1337.9,1237.2 1340.2,1236.9 1342.4,1236.7 1344.7,1236.4 1346.9,1236.1 1349.1,1235.8 1351.4,1235.4 1353.6,1235.1 1355.9,1234.7 1358.1,1234.3 1360.3,1233.8 1362.6,1233.4 1364.8,1232.9 1367.1,1232.4 1369.3,1231.8 1371.5,1231.3 1373.8,1230.7 1376.0,1230.1 1378.3,1229.4 1380.5,1228.7 1382.7,1228.0 1385.0,1227.2 1387.2,1226.5 1389.5,1225.6 1391.7,1224.8 1393.9,1223.9 1396.2,1223.0 1398.4,1222.0 1400.7,1221.0 1402.9,1220.0 1405.1,1219.0 1407.4,1217.9 1409.6,1216.7 1411.9,1215.6 1414.1,1214.4 1416.3,1213.1 1418.6,1211.9 1420.8,1210.6 1423.1,1209.3 1425.3,1207.9 1427.5,1206.6 1429.8,1205.2 1432.0,1203.8 1434.3,1202.3 1436.5,1200.8 1438.7,1199.4 1441.0,1197.9 1443.2,1196.4 1445.5,1194.9 1447.7,1193.3 1449.9,1191.8 1452.2,1190.3 1454.4,1188.7 1456.7,1187.2 1458.9,1185.7 1461.1,1184.2 1463.4,1182.7 1465.6,1181.2 1467.9,1179.7 1470.1,1178.3 1472.4,1176.9 1474.6,1175.5 1476.8,1174.1 1479.1,1172.8 1481.3,1171.5 1483.6,1170.3 1485.8,1169.1 1488.0,1167.9 1490.3,1166.9 1492.5,1165.8 1494.8,1164.8 1497.0,1163.9 1499.2,1163.1 1501.5,1162.3 1503.7,1161.5 1506.0,1160.9 1508.2,1160.3 1510.4,1159.8 1512.7,1159.3 1514.9,1159.0 1517.2,1158.7 1519.4,1158.5 1521.6,1158.3 1523.9,1158.3 1526.1,1158.3 1528.4,1158.4 1530.6,1158.5 1532.8,1158.8 1535.1,1159.1 1537.3,1159.5 1539.6,1160.0 1541.8,1160.6 1544.0,1161.2 1546.3,1161.9 1548.5,1162.6 1550.8,1163.5 1553.0,1164.3 1555.2,1165.3 1557.5,1166.3 1559.7,1167.4 1562.0,1168.5 1564.2,1169.6 1566.4,1170.9 1568.7,1172.1 1570.9,1173.4 1573.2,1174.7 1575.4,1176.1 1577.6,1177.5 1579.9,1178.9 1582.1,1180.4 1584.4,1181.9 1586.6,1183.4 1588.8,1184.9 1591.1,1186.4 1593.3,1187.9 1595.6,1189.4 1597.8,1191.0 1600.0,1192.5 1602.3,1194.0 1604.5,1195.6 1606.8,1197.1 1609.0,1198.6 1611.2,1200.1 1613.5,1201.5 1615.7,1203.0 1618.0,1204.4 1620.2,1205.8 1622.4,1207.2 1624.7,1208.6 1626.9,1209.9 1629.2,1211.2 1631.4,1212.5 1633.7,1213.7 1635.9,1214.9 1638.1,1216.1 1640.4,1217.3 1642.6,1218.4 1644.9,1219.5 1647.1,1220.5 1649.3,1221.5 1651.6,1222.5 1653.8,1223.4 1656.1,1224.3 1658.3,1225.2 1660.5,1226.0 1662.8,1226.8 1665.0,1227.6 1667.3,1228.3 1669.5,1229.0 1671.7,1229.7 1674.0,1230.4 1676.2,1231.0 1678.5,1231.5 1680.7,1232.1 1682.9,1232.6 1685.2,1233.1 1687.4,1233.6 1689.7,1234.0 1691.9,1234.5 1694.1,1234.8 1696.4,1235.2 1698.6,1235.6 1700.9,1235.9 1703.1,1236.2 1705.3,1236.5 1707.6,1236.8 1709.8,1237.0 1712.1,1237.3 1714.3,1237.5 1716.5,1237.7 1718.8,1237.9 1721.0,1238.1 1723.3,1238.3 1725.5,1238.4 1727.7,1238.6 1730.0,1238.7 1732.2,1238.8 1734.5,1238.9 1736.7,1239.1 1738.9,1239.2 1741.2,1239.2 1743.4,1239.3 1745.7,1239.4 1747.9,1239.5 1750.1,1239.5 1752.4,1239.6 1754.6,1239.7 1756.9,1239.7 1759.1,1239.8 1761.3,1239.8 1763.6,1239.8 1765.8,1239.9 1768.1,1239.9 1770.3,1239.9 1772.5,1240.0 1774.8,1240.0 1777.0,1240.0 1779.3,1240.0 1781.5,1240.0 1783.8,1240.1 1786.0,1240.1 1788.2,1240.1 1790.5,1240.1 1792.7,1240.1 1795.0,1240.1 1797.2,1240.1 1799.4,1240.1 1801.7,1240.1 1803.9,1240.2 1806.2,1240.2 1808.4,1240.2 1810.6,1240.2 1812.9,1240.2 1815.1,1240.2 1817.4,1240.2 1819.6,1240.2 1821.8,1240.2 1824.1,1240.2 1826.3,1240.2 1828.6,1240.2 1830.8,1240.2 1833.0,1240.2 1835.3,1240.2 1837.5,1240.2 1839.8,1240.2 1842.0,1240.2 1844.2,1240.2 1846.5,1240.2 1848.7,1240.2 1851.0,1240.2 1853.2,1240.2 1855.4,1240.2 1857.7,1240.2 1859.9,1240.2 1859.9,1240.2" fill="#00ff00" fill-opacity="0.4" stroke="none"/>
<polyline points="1190.1,1240.2 1192.3,1240.2 1194.6,1240.2 1196.8,1240.2 1199.0,1240.2 1201.3,1240.2 1203.5,1240.2 1205.8,1240.2 1208.0,1240.2 1210.2,1240.2 1212.5,1240.2 1214.7,1240.2 1217.0,1240.2 1219.2,1240.2 1221.4,1240.2 1223.7,1240.2 1225.9,1240.2 1228.2,1240.2 1230.4,1240.2 1232.6,1240.2 1234.9,1240.2 1237.1,1240.2 1239.4,1240.2 1241.6,1240.2 1243.8,1240.2 1246.1,1240.1 1248.3,1240.1 1250.6,1240.1 1252.8,1240.1 1255.0,1240.1 1257.3,1240.1 1259.5,1240.1 1261.8,1240.1 1264.0,1240.1 1266.2,1240.1 1268.5,1240.0 1270.7,1240.0 1273.0,1240.0 1275.2,1240.0 1277.4,1239.9 1279.7,1239.9 1281.9,1239.9 1284.2,1239.9 1286.4,1239.8 1288.6,1239.8 1290.9,1239.7 1293.1,1239.7 1295.4,1239.6 1297.6,1239.6 1299.8,1239.5 1302.1,1239.4 1304.3,1239.4 1306.6,1239.3 1308.8,1239.2 1311.1,1239.1 1313.3,1239.0 1315.5,1238.9 1317.8,1238.8 1320.0,1238.6 1322.3,1238.5 1324.5,1238.4 1326.7,1238.2 1329.0,1238.0 1331.2,1237.8 1333.5,1237.6 1335.7,1237.4 1337.9,1237.2 1340.2,1236.9 1342.4,1236.7 1344.7,1236.4 1346.9,1236.1 1349.1,1235.8 1351.4,1235.4 1353.6,1235.1 1355.9,1234.7 1358.1,1234.3 1360.3,1233.8 1362.6,1233.4 1364.8,1232.9 1367.1,1232.4 1369.3,1231.8 1371.5,1231.3 1373.8,1230.7 1376.0,1230.1 1378.3,1229.4 1380.5,1228.7 1382.7,1228.0 1385.0,1227.2 1387.2,1226.5 1389.5,1225.6 1391.7,1224.8 1393.9,1223.9 1396.2,1223.0 1398.4,1222.0 1400.7,1221.0 1402.9,1220.0 1405.1,1219.0 1407.4,1217.9 1409.6,1216.7 1411.9,1215.6 1414.1,1214.4 1416.3,1213.1 1418.6,1211.9 1420.8,1210.6 1423.1,1209.3 1425.3,1207.9 1427.5,1206.6 1429.8,1205.2 1432.0,1203.8 1434.3,1202.3 1436.5,1200.8 1438.7,1199.4 1441.0,1197.9 1443.2,1196.4 1445.5,1194.9 1447.7,1193.3 1449.9,1191.8 1452.2,1190.3 1454.4,1188.7 1456.7,1187.2 1458.9,1185.7 1461.1,1184.2 1463.4,1182.7 1465.6,1181.2 1467.9,1179.7 1470.1,1178.3 1472.4,1176.9 1474.6,1175.5 1476.8,1174.1 1479.1,1172.8 1481.3,1171.5 1483.6,1170.3 1485.8,1169.1 1488.0,1167.9 1490.3,1166.9 1492.5,1165.8 1494.8,1164.8 1497.0,1163.9 1499.2,1163.1 1501.5,1162.3 1503.7,1161.5 1506.0,1160.9 1508.2,1160.3 1510.4,1159.8 1512.7,1159.3 1514.9,1159.0 1517.2,1158.7 1519.4,1158.5 1521.6,1158.3 1523.9,1158.3 1526.1,1158.3 1528.4,1158.4 1530.6,1158.5 1532.8,1158.8 1535.1,1159.1 1537.3,1159.5 1539.6,1160.0 1541.8,1160.6 1544.0,1161.2 1546.3,1161.9 1548.5,1162.6 1550.8,1163.5 1553.0,1164.3 1555.2,1165.3 1557.5,1166.3 1559.7,1167.4 1562.0,1168.5 1564.2,1169.6 1566.4,1170.9 1568.7,1172.1 1570.9,1173.4 1573.2,1174.7 1575.4,1176.1 1577.6,1177.5 1579.9,1178.9 1582.1,1180.4 1584.4,1181.9 1586.6,1183.4 1588.8,1184.9 1591.1,1186.4 1593.3,1187.9 1595.6,1189.4 1597.8,1191.0 1600.0,1192.5 1602.3,1194.0 1604.5,1195.6 1606.8,1197.1 1609.0,1198.6 1611.2,1200.1 1613.5,1201.5 1615.7,1203.0 1618.0,1204.4 1620.2,1205.8 1622.4,1207.2 1624.7,1208.6 1626.9,1209.9 1629.2,1211.2 1631.4,1212.5 1633.7,1213.7 1635.9,1214.9 1638.1,1216.1 1640.4,1217.3 1642.6,1218.4 1644.9,1219.5 1647.1,1220.5 1649.3,1221.5 1651.6,1222.5 1653.8,1223.4 1656.1,1224.3 1658.3,1225.2 1660.5,1226.0 1662.8,1226.8 1665.0,1227.6 1667.3,1228.3 1669.5,1229.0 1671.7,1229.7 1674.0,1230.4 1676.2,1231.0 1678.5,1231.5 1680.7,1232.1 1682.9,1232.6 1685.2,1233.1 1687.4,1233.6 1689.7,1234.0 1691.9,1234.5 1694.1,1234.8 1696.4,1235.2 1698.6,1235.6 1700.9,1235.9 1703.1,1236.2 1705.3,1236.5 1707.6,1236.8 1709.8,1237.0 1712.1,1237.3 1714.3,1237.5 1716.5,1237.7 1718.8,1237.9 1721.0,1238.1 1723.3,1238.3 1725.5,1238.4 1727.7,1238.6 1730.0,1238.7 1732.2,1238.8 1734.5,1238.9 1736.7,1239.1 1738.9,1239.2 1741.2,1239.2 1743.4,1239.3 1745.7,1239.4 1747.9,1239.5 1750.1,1239.5 1752.4,1239.6 1754.6,1239.7 1756.9,1239.7 1759.1,1239.8 1761.3,1239.8 1763.6,1239.8 1765.8,1239.9 1768.1,1239.9 1770.3,1239.9 1772.5,1240.0 1774.8,1240.0 1777.0,1240.0 1779.3,1240.0 1781.5,1240.0 1783.8,1240.1 1786.0,1240.1 1788.2,1240.1 1790.5,1240.1 1792.7,1240.1 1795.0,1240.1 1797.2,1240.1 1799.4,1240.1 1801.7,1240.1 1803.9,1240.2 1806.2,1240.2 1808.4,1240.2 1810.6,1240.2 1812.9,1240.2 1815.1,1240.2 1817.4,1240.2 1819.6,1240.2 1821.8,1240.2 1824.1,1240.2 1826.3,1240.2 1828.6,1240.2 1830.8,1240.2 1833.0,1240.2 1835.3,1240.2 1837.5,1240.2 1839.8,1240.2 1842.0,1240.2 1844.2,1240.2 1846.5,1240.2 1848.7,1240.2 1851.0,1240.2 1853.2,1240.2 1855.4,1240.2 1857.7,1240.2 1859.9,1240.2" fill="none" stroke="#00ff00" stroke-width="2.3"/>
</g>
<g stroke="#000000" stroke-width="1.9" fill="none">
<line x1="1153.5" y1="753.3" x2="1153.5" y2="1249.5"/><line x1="1144.2" y1="1240.2" x2="1860.0" y2="1240.2"/><line x1="1148.7" y1="1179.5" x2="1153.5" y2="1179.5"/><line x1="1144.2" y1="1118.8" x2="1153.5" y2="1118.8"/><line x1="1148.7" y1="1058.1" x2="1153.5" y2="1058.1"/><line x1="1144.2" y1="997.4" x2="1153.5" y2="997.4"/><line x1="1148.7" y1="936.7" x2="1153.5" y2="936.7"/><line x1="1144.2" y1="876.0" x2="1153.5" y2="876.0"/><line x1="1148.7" y1="815.3" x2="1153.5" y2="815.3"/><line x1="1144.2" y1="754.6" x2="1153.5" y2="754.6"/><line x1="1190.1" y1="1240.2" x2="1190.1" y2="1245.0"/><line x1="1226.7" y1="1240.2" x2="1226.7" y2="1245.0"/><line x1="1263.2" y1="1240.2" x2="1263.2" y2="1245.0"/><line x1="1299.8" y1="1240.2" x2="1299.8" y2="1249.5"/><line x1="1336.4" y1="1240.2" x2="1336.4" y2="1245.0"/><line x1="1373.0" y1="1240.2" x2="1373.0" y2="1245.0"/><line x1="1409.5" y1="1240.2" x2="1409.5" y2="1245.0"/><line x1="1446.1" y1="1240.2" x2="1446.1" y2="1249.5"/><line x1="1482.7" y1="1240.2" x2="1482.7" y2="1245.0"/><line x1="1519.2" y1="1240.2" x2="1519.2" y2="1245.0"/><line x1="1555.8" y1="1240.2" x2="1555.8" y2="1245.0"/><line x1="1592.4" y1="1240.2" x2="1592.4" y2="1249.5"/><line x1="1629.0" y1="1240.2" x2="1629.0" y2="1245.0"/><line x1="1665.5" y1="1240.2" x2="1665.5" y2="1245.0"/><line x1="1702.1" y1="1240.2" x2="1702.1" y2="1245.0"/><line x1="1738.7" y1="1240.2" x2="1738.7" y2="1249.5"/><line x1="1775.3" y1="1240.2" x2="1775.3" y2="1245.0"/><line x1="1811.8" y1="1240.2" x2="1811.8" y2="1245.0"/><line x1="1848.4" y1="1240.2" x2="1848.4" y2="1245.0"/>
</g>
<g font-size="20.5" fill="#000000" text-anchor="end"><text x="1137.3" y="1247.4">0</text><text x="1137.3" y="1126.0">2k</text><text x="1137.3" y="1004.6">4k</text><text x="1137.3" y="883.2">6k</text><text x="1137.3" y="761.8">8k</text></g>
<g font-size="20.5" fill="#000000" text-anchor="middle"><text x="1153.7" y="1271.8">17-2</text><text x="1300.0" y="1271.8">16-3</text><text x="1446.3" y="1271.8">13-4</text><text x="1592.6" y="1271.8">11-5</text><text x="1738.9" y="1271.8">8-6</text></g>
<text transform="translate(1104.4,996.8) rotate(-90)" font-size="25" text-anchor="middle" fill="#000000">Cases per day</text>
</g>
<g id="watermark">
<path d="M1540.0 815.6 L442.3 815.6 L442.3 644.2 L437.2 639.1 L437.2 618.4 L442.9 617.3 L442.9 622.4 L447.5 622.4 L447.5 616.1 L453.2 615.0 L453.2 620.2 L456.7 620.2 L456.7 613.3 L464.1 611.6 L464.1 619.0 L467.6 619.0 L467.6 610.4 L475.0 609.0 L475.0 617.3 L478.4 617.3 L478.4 608.1 L482.4 607.0 L482.4 600.1 L477.3 595.5 L477.3 585.8 L483.6 583.5 L483.6 588.6 L487.0 588.6 L487.0 581.8 L493.3 580.1 L493.3 587.5 L496.2 587.5 L496.2 579.5 L504.2 577.2 L504.2 585.8 L508.2 585.8 L508.2 576.6 L514.5 575.5 L514.5 584.3 L518.5 584.3 L518.5 574.9 L525.4 574.7 L525.4 583.7 L530.6 583.7 L530.6 574.9 L537.5 575.5 L537.5 584.6 L541.5 584.6 L541.5 576.0 L547.8 577.0 L547.8 585.8 L551.8 585.8 L551.8 577.8 L559.2 579.3 L559.2 587.5 L563.2 587.5 L563.2 580.6 L569.0 582.3 L569.0 588.6 L572.4 588.6 L572.4 584.3 L578.7 586.4 L578.7 595.5 L573.5 600.1 L573.5 607.0 L577.6 608.7 L577.6 617.9 L581.0 617.9 L581.0 609.3 L587.9 610.4 L587.9 619.6 L590.7 619.6 L590.7 611.0 L597.0 612.1 L597.0 620.2" fill="none" stroke="#9a9a9a" stroke-opacity="0.4" stroke-width="1.3"/>
<text transform="translate(431.6,813.8) rotate(-90) translate(0,0.00) scale(0.3370,0.4560)" x="-7.5 130.0 265.2 403.8" y="0" fill="#2245ac" fill-opacity="0.135" font-weight="700" font-family="Liberation Sans, Arial, sans-serif" font-size="200">2020</text>
<text transform="translate(0,757.50) scale(1.0400,1.0580)" x="423.6 508.5 616.0 699.6" y="0" fill="#2245ac" fill-opacity="0.135" font-weight="700" font-family="Liberation Sans, Arial, sans-serif" font-size="200">nano</text>
<text transform="translate(0,754.00) scale(1.1400,0.9640)" x="743.1 794.5 893.1 979.5 1088.4 1191.5 1227.2 1337.5 1440.2" y="0" fill="#404040" stroke="#404040" stroke-width="6.6" opacity="0.2" font-weight="200" font-family="DejaVu Sans, Liberation Sans, sans-serif" font-size="200">texnology</text>
<g font-family="Liberation Sans, Arial, sans-serif" font-size="35.6" fill="#6f90bb" opacity="0.45"><text x="454.7" y="802.4" textLength="147.6" lengthAdjust="spacingAndGlyphs">INTERNATIONAL</text> <text x="611.6" y="802.4" textLength="136.2" lengthAdjust="spacingAndGlyphs">CONFERENCES</text> <text x="756.0" y="802.4" textLength="13.1" lengthAdjust="spacingAndGlyphs">&amp;</text> <text x="776.4" y="802.4" textLength="105.0" lengthAdjust="spacingAndGlyphs">EXHIBITION</text> </g>
<g font-family="Liberation Sans, Arial, sans-serif" font-size="35.6" fill="#707070" opacity="0.36"><text x="888.7" y="802.4" textLength="24.8" lengthAdjust="spacingAndGlyphs">ON</text> <text x="920.8" y="802.4" textLength="197.5" lengthAdjust="spacingAndGlyphs">NANOTECHNOLOGIES</text> <text x="1126.4" y="802.4" textLength="8.4" lengthAdjust="spacingAndGlyphs">-</text> <text x="1140.1" y="802.4" textLength="85.8" lengthAdjust="spacingAndGlyphs">ORGANIC</text> <text x="1232.9" y="802.4" textLength="128.7" lengthAdjust="spacingAndGlyphs">ELECTRONICS</text> <text x="1368.7" y="802.4" textLength="13.6" lengthAdjust="spacingAndGlyphs">&amp;</text> <text x="1387.6" y="802.4" textLength="145.2" lengthAdjust="spacingAndGlyphs">NANOMEDICINE</text> </g>
<g font-family="Liberation Sans, Arial, sans-serif" font-size="30.7" fill="#707070" opacity="0.30"><text x="1406.8" y="625.7" textLength="31.5" lengthAdjust="spacingAndGlyphs">4-11</text> <text x="1445.1" y="625.7" textLength="43.1" lengthAdjust="spacingAndGlyphs">JULY</text> <text x="1497.6" y="625.7" textLength="54.0" lengthAdjust="spacingAndGlyphs">2020,</text> <text x="1560.0" y="625.7" textLength="131.6" lengthAdjust="spacingAndGlyphs">THESSALONIKI,</text> <text x="1700.0" y="625.7" textLength="69.3" lengthAdjust="spacingAndGlyphs">GREECE</text> </g>
</g>
</svg>
</body></html>
